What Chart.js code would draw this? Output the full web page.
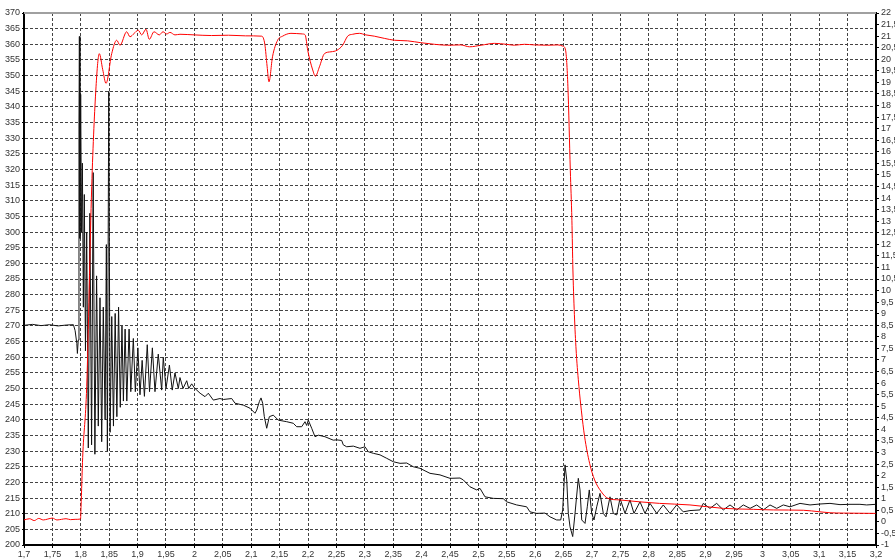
<!DOCTYPE html>
<html>
<head>
<meta charset="utf-8">
<script src="https://cdn.jsdelivr.net/npm/chart.js"></script>
<style>
  body { margin: 0; background: #fff; }
  #wrap { width: 895px; height: 560px; }
</style>
</head>
<body>
<div id="wrap"><canvas id="signalChart"></canvas></div>
<script>
// tick values
const xTicks = [1.7, 1.75, 1.8, 1.85, 1.9, 1.95, 2, 2.05, 2.1, 2.15, 2.2, 2.25, 2.3, 2.35, 2.4, 2.45,
	2.5, 2.55, 2.6, 2.65, 2.7, 2.75, 2.8, 2.85, 2.9, 2.95, 3, 3.05, 3.1, 3.15, 3.2];
const leftTicks = [200, 205, 210, 215, 220, 225, 230, 235, 240, 245, 250, 255, 260, 265, 270, 275, 280,
	285, 290, 295, 300, 305, 310, 315, 320, 325, 330, 335, 340, 345, 350, 355, 360, 365, 370];
const rightTicks = [-1, -0.5, 0, 0.5, 1, 1.5, 2, 2.5, 3, 3.5, 4, 4.5, 5, 5.5, 6, 6.5, 7, 7.5, 8, 8.5,
	9, 9.5, 10, 10.5, 11, 11.5, 12, 12.5, 13, 13.5, 14, 14.5, 15, 15.5, 16, 16.5, 17, 17.5, 18, 18.5,
	19, 19.5, 20, 20.5, 21, 21.5, 22];

// black trace [time, value]
const blackSeries = [
	[1.700, 270.2], [1.715, 270.5], [1.730, 270.1], [1.745, 270.4], [1.760, 270.0], [1.775, 270.3],
	[1.787, 270.4], [1.790, 268.5], [1.793, 264.4], [1.794, 261.2], [1.7955, 265.5], [1.7968, 335],
	[1.7975, 362.5], [1.7985, 298], [1.7998, 344], [1.8012, 300], [1.8028, 322], [1.8045, 276],
	[1.8062, 312], [1.8082, 262], [1.8104, 300], [1.8132, 231], [1.8160, 306], [1.8190, 232],
	[1.8218, 319], [1.8248, 229], [1.8278, 286], [1.8308, 238], [1.8338, 279], [1.8368, 233],
	[1.8396, 276], [1.8428, 240], [1.8450, 296], [1.8468, 230], [1.8492, 345], [1.8516, 236],
	[1.8545, 273], [1.8575, 238], [1.8605, 274], [1.8635, 241], [1.8665, 276], [1.8695, 244],
	[1.8725, 270], [1.8750, 246], [1.8780, 269], [1.8810, 246], [1.8850, 269], [1.8880, 249],
	[1.8925, 266], [1.8960, 249], [1.9005, 263], [1.9042, 248], [1.9080, 259], [1.9120, 247.5],
	[1.9170, 264], [1.9210, 249], [1.9260, 263], [1.9306, 249], [1.9364, 261], [1.9424, 249.5],
	[1.9452, 260], [1.9500, 250], [1.9560, 257.5], [1.9610, 249.5], [1.9658, 255], [1.9717, 250],
	[1.9746, 253.5], [1.9800, 250], [1.9865, 252.5], [1.9900, 250], [1.9952, 251.5], [2.0000, 250.2],
	[2.0100, 248.5], [2.0187, 247.4], [2.0245, 248.5], [2.0333, 246.3], [2.0450, 246.8], [2.0510, 246.5],
	[2.0657, 246.8], [2.0715, 245.3], [2.0861, 244.7], [2.0979, 243.7], [2.1067, 242.1], [2.1097, 243.1],
	[2.1143, 245.8], [2.1173, 247.0], [2.1202, 245.3], [2.1231, 241.0], [2.1273, 237.3], [2.1319, 241.0],
	[2.1389, 241.5], [2.1477, 239.9], [2.1625, 239.4], [2.1741, 238.9], [2.1801, 237.8], [2.1889, 237.8],
	[2.1947, 239.4], [2.1977, 238.2], [2.2005, 239.9], [2.2065, 237.3], [2.2123, 234.6], [2.2181, 235.1],
	[2.2299, 234.6], [2.2445, 233.5], [2.2505, 233.6], [2.2593, 233.4], [2.2621, 232.0], [2.2681, 231.4],
	[2.2798, 231.6], [2.2915, 230.9], [2.3004, 231.4], [2.3062, 229.8], [2.3150, 229.3], [2.3268, 228.8],
	[2.3386, 227.7], [2.3502, 226.6], [2.3620, 226.1], [2.3738, 226.2], [2.3854, 225.0], [2.3972, 224.5],
	[2.4148, 222.9], [2.4324, 222.4], [2.4500, 221.3], [2.4676, 221.4], [2.4734, 220.8], [2.4852, 218.6],
	[2.4970, 217.6], [2.5028, 218.1], [2.5116, 215.4], [2.5262, 214.9], [2.5438, 214.8], [2.5498, 213.8],
	[2.5674, 212.8], [2.5850, 212.2], [2.5908, 210.6], [2.6026, 210.1], [2.6173, 210.2], [2.6261, 209.0],
	[2.6378, 208.0], [2.6449, 208.0], [2.6484, 211.2], [2.6525, 225.6], [2.6555, 220.8], [2.6583, 210.1],
	[2.6613, 205.8], [2.6660, 202.7], [2.6701, 210.1], [2.6759, 221.3], [2.6789, 217.6], [2.6819, 208.0],
	[2.6877, 206.9], [2.6917, 212.2], [2.6952, 217.6], [2.6995, 210.1], [2.7035, 208.0], [2.7083, 212.2],
	[2.7141, 216.5], [2.7199, 210.1], [2.7246, 209.0], [2.7317, 215.4], [2.7375, 210.1], [2.7435, 209.6],
	[2.7493, 214.9], [2.7581, 210.1], [2.7669, 214.4], [2.7739, 210.1], [2.7845, 213.8], [2.7933, 210.1],
	[2.8021, 213.3], [2.8139, 210.1], [2.8255, 212.8], [2.8373, 210.1], [2.8491, 212.8], [2.8607, 210.6],
	[2.8725, 211.0], [2.8901, 211.2], [2.8959, 213.3], [2.9077, 211.7], [2.9195, 213.3], [2.9312, 211.2],
	[2.9430, 212.8], [2.9548, 211.2], [2.9664, 212.8], [2.9782, 211.7], [2.9900, 212.8], [3.0016, 211.2],
	[3.0134, 212.8], [3.0252, 211.7], [3.0368, 212.8], [3.0486, 212.2], [3.0662, 213.3], [3.0838, 212.8],
	[3.1014, 213.1], [3.1190, 213.3], [3.1366, 212.9], [3.1542, 213.0], [3.1718, 213.0], [3.1836, 212.8],
	[3.1995, 213.0]
];

// red trace [time, value]
const redSeries = [
	[1.700, 208.0], [1.710, 208.4], [1.718, 207.8], [1.726, 208.5], [1.734, 208.0], [1.742, 208.3],
	[1.750, 208.6], [1.758, 208.0], [1.766, 208.2], [1.774, 208.4], [1.782, 208.1], [1.790, 208.2],
	[1.7995, 208.3], [1.8004, 212], [1.8033, 228], [1.8104, 250.6], [1.8192, 314.5], [1.8268, 346.4],
	[1.8326, 357], [1.8385, 352], [1.8444, 347.5], [1.8544, 357], [1.8632, 361.3], [1.8690, 359.7],
	[1.8808, 364], [1.8866, 362.4], [1.8940, 363.5], [1.9012, 364.5], [1.9072, 363], [1.9148, 364.8],
	[1.9206, 361.6], [1.9289, 364], [1.9382, 363], [1.9447, 364], [1.9512, 363.3], [1.9570, 363.8],
	[1.9658, 363], [1.9746, 363.2], [2.000, 363.0], [2.030, 362.8], [2.060, 362.9], [2.090, 362.7],
	[2.1185, 362.6], [2.1240, 360], [2.1280, 353], [2.1313, 348.0], [2.1375, 356], [2.1465, 361.3],
	[2.1553, 362.6], [2.1700, 363.5], [2.1905, 363.3], [2.1950, 363.0], [2.1995, 358.1], [2.2083, 351.8],
	[2.2130, 349.8], [2.2201, 352.8], [2.2289, 357], [2.2405, 357.6], [2.2511, 358.1], [2.2610, 359.7],
	[2.2698, 362.6], [2.2786, 363.2], [2.2904, 363.5], [2.3020, 363], [2.3167, 362.6], [2.3343, 361.9],
	[2.3519, 361.3], [2.3754, 361.1], [2.3988, 360.5], [2.4224, 360], [2.4458, 359.7], [2.4690, 359.8],
	[2.4843, 359.2], [2.5048, 359.7], [2.5283, 360.3], [2.5488, 360.0], [2.5635, 359.7], [2.5811, 360],
	[2.5987, 359.8], [2.6222, 359.7], [2.6400, 359.8], [2.6489, 359.4], [2.6535, 358.1], [2.6576, 346.4],
	[2.6618, 319.8], [2.6646, 303.8], [2.6664, 287.9], [2.6694, 271.9], [2.6724, 261.2], [2.6770, 250.6],
	[2.6812, 243.1], [2.6870, 234.6], [2.6958, 226.1], [2.7046, 220.8], [2.7164, 217], [2.7280, 214.9],
	[2.7486, 214.4], [2.7838, 213.8], [2.8190, 213.3], [2.8725, 212.8], [2.9313, 211.7], [2.9841, 211.4],
	[3.0193, 211.2], [3.0720, 211.1], [3.1014, 210.6], [3.1190, 210.3], [3.1425, 210.2], [3.1995, 210.1]
];

function toPoints(series) {
	return series.map(p => ({ x: p[0], y: p[1] }));
}

function commaLabel(value) {
	return String(value).replace('.', ',');
}

// grey line along the top of the plot area
const topBorder = {
	id: 'topBorder',
	afterDraw(chart) {
		const { ctx, chartArea } = chart;
		ctx.save();
		ctx.strokeStyle = '#a0a0a0';
		ctx.lineWidth = 2;
		ctx.beginPath();
		ctx.moveTo(chartArea.left, chartArea.top);
		ctx.lineTo(chartArea.right, chartArea.top);
		ctx.stroke();
		ctx.restore();
	}
};

const tickFont = { family: 'Liberation Sans', size: 9 };

const ctx = document.getElementById('signalChart').getContext('2d');
new Chart(ctx, {
	type: 'line',
	data: {
		datasets: [{
			label: 'red',
			data: toPoints(redSeries),
			borderColor: '#ff0000',
			borderWidth: 1,
			pointRadius: 0,
			cubicInterpolationMode: 'monotone',
			yAxisID: 'y',
		}, {
			label: 'black',
			data: toPoints(blackSeries),
			borderColor: '#111111',
			borderWidth: 1,
			pointRadius: 0,
			tension: 0,
			yAxisID: 'y',
		}],
	},
	options: {
		responsive: true,
		maintainAspectRatio: false,
		animation: false,
		layout: { padding: { top: 13, left: 0, right: 0, bottom: 0 } },
		plugins: {
			legend: { display: false },
			tooltip: { enabled: false },
		},
		scales: {
			x: {
				type: 'linear',
				min: 1.7,
				max: 3.2,
				afterBuildTicks: scale => { scale.ticks = xTicks.map(v => ({ value: v })); },
				afterFit: scale => { scale.height = 15; },
				ticks: {
					autoSkip: false,
					maxRotation: 0,
					padding: 1,
					color: '#333',
					font: tickFont,
					callback: commaLabel,
				},
				grid: { color: '#444', lineWidth: 1, tickLength: 3, tickColor: '#000' },
				border: { color: '#000', width: 2, dash: [3, 2] },
			},
			y: {
				type: 'linear',
				position: 'left',
				min: 200,
				max: 370,
				afterBuildTicks: scale => { scale.ticks = leftTicks.map(v => ({ value: v })); },
				afterFit: scale => { scale.width = 24; },
				ticks: {
					autoSkip: false,
					padding: 2,
					color: '#333',
					font: tickFont,
				},
				grid: { color: '#444', lineWidth: 1, tickLength: 2, tickColor: '#000' },
				border: { color: '#000', width: 2, dash: [3, 2] },
			},
			y1: {
				type: 'linear',
				position: 'right',
				min: -1,
				max: 22,
				afterBuildTicks: scale => { scale.ticks = rightTicks.map(v => ({ value: v })); },
				afterFit: scale => { scale.width = 19; },
				ticks: {
					autoSkip: false,
					padding: 2,
					color: '#333',
					font: tickFont,
					callback: commaLabel,
				},
				grid: { drawOnChartArea: false, tickLength: 3, tickColor: '#000' },
				border: { color: '#000', width: 2 },
			},
		},
	},
	plugins: [topBorder],
});
</script>
</body>
</html>
